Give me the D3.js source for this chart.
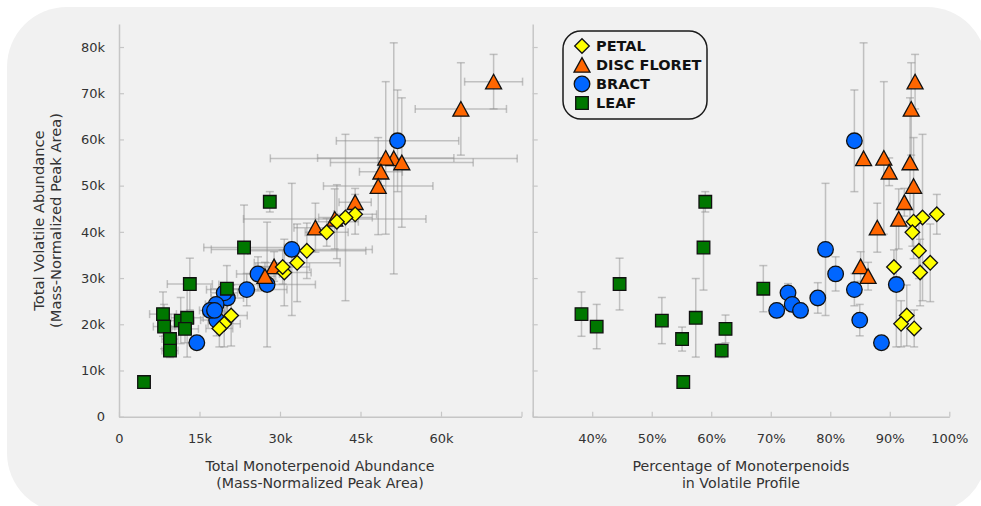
<!DOCTYPE html>
<html>
<head>
<meta charset="utf-8">
<script src="https://cdn.jsdelivr.net/npm/d3@7"></script>
<style>
  html, body { margin: 0; padding: 0; background: #ffffff; }
  svg { display: block; }
  text { font-family: "DejaVu Sans", Verdana, sans-serif; }
</style>
</head>
<body>
<svg id="chart" width="981" height="506"></svg>
<script>
// ---------------- DATA ----------------
const categories = ["PETAL", "DISC FLORET", "BRACT", "LEAF"];

// PETAL
const petalTotal    = [43800, 43100, 42200, 39900, 35900, 33300, 31200, 32400, 21900, 20100, 19100];
const petalMono     = [44000, 42200, 40600, 38700, 35000, 33200, 30800, 30500, 20900, 19600, 18700];
const petalPct      = [97.9, 95.5, 94.0, 93.8, 94.9, 96.8, 95.1, 90.7, 92.85, 91.9, 94.1];
const petalTotalErr = [4300, 18000, 8000, 3000, 6000, 8400, 7200, 3700, 6600, 5000, 4000];
const petalMonoErr  = [4000, 5000, 4000, 4000, 11000, 8000, 5000, 5000, 3000, 3000, 2500];

// DISC FLORET
const discTotal    = [72500, 66600, 55900, 56000, 55000, 53000, 49900, 46400, 42800, 40900, 32500, 30400];
const discMono     = [69800, 63700, 51200, 49700, 52700, 48800, 48300, 44000, 40200, 36600, 28900, 27200];
const discPct      = [94.25, 93.6, 85.6, 89.0, 93.4, 89.9, 94.0, 92.45, 91.5, 87.9, 85.1, 86.35];
const discTotalErr = [5900, 10000, 25000, 16500, 14000, 3000, 10500, 3000, 6500, 5300, 3200, 3000];
const discMonoErr  = [5400, 8500, 23000, 12700, 13300, 4000, 10200, 3000, 17000, 4000, 3000, 2000];

// BRACT
const bractTotal    = [59700, 36200, 30900, 27500, 28600, 20900, 16000, 25700, 26800, 24300, 23000, 23000];
const bractMono     = [51900, 32200, 25900, 23800, 27600, 18200, 14500, 20200, 19600, 18100, 17000, 17800];
const bractPct      = [84.05, 79.2, 80.9, 84.05, 91.1, 84.95, 88.6, 77.9, 72.9, 73.6, 71.0, 75.0];
const bractTotalErr = [11000, 14300, 3700, 3500, 13500, 3400, 0, 3300, 2000, 1500, 1500, 1500];
const bractMonoErr  = [11400, 15000, 4000, 7500, 9000, 3000, 0, 3000, 2500, 2000, 2000, 2000];

// LEAF
const leafTotal    = [7500, 22200, 19500, 28700, 20800, 16800, 21400, 46500, 36600, 19000, 14300, 27700];
const leafMono     = [4660, 8200, 8400, 13200, 11500, 9500, 12700, 28100, 23300, 12300, 9500, 20100];
const leafPct      = [55.3, 38.2, 40.75, 44.6, 51.7, 55.1, 57.4, 59.0, 58.7, 62.4, 61.75, 68.75];
const leafTotalErr = [0, 4800, 4800, 5600, 5000, 2600, 8500, 2200, 9200, 3000, 1500, 5000];
const leafMonoErr  = [0, 2500, 2000, 4200, 2500, 1500, 3000, 1000, 7500, 2500, 1500, 3000];

// Axis ticks and labels
const leftXTicks       = [0, 15000, 30000, 45000, 60000, 75000];
const leftXTickLabels  = ["0", "15k", "30k", "45k", "60k", ""];
const yTicks           = [0, 10000, 20000, 30000, 40000, 50000, 60000, 70000, 80000];
const yTickLabels      = ["0", "10k", "20k", "30k", "40k", "50k", "60k", "70k", "80k"];
const rightXTicks      = [30, 40, 50, 60, 70, 80, 90, 100];
const rightXTickLabels = ["", "40%", "50%", "60%", "70%", "80%", "90%", "100%"];

// ---------------- BUILD SERIES ----------------
function zipSeries(name, total, mono, pct, totErr, monoErr) {
  return total.map((t, i) => ({ name, total: t, mono: mono[i], pct: pct[i], totErr: totErr[i], monoErr: monoErr[i] }));
}
const series = {
  "PETAL": zipSeries("PETAL", petalTotal, petalMono, petalPct, petalTotalErr, petalMonoErr),
  "DISC FLORET": zipSeries("DISC FLORET", discTotal, discMono, discPct, discTotalErr, discMonoErr),
  "BRACT": zipSeries("BRACT", bractTotal, bractMono, bractPct, bractTotalErr, bractMonoErr),
  "LEAF": zipSeries("LEAF", leafTotal, leafMono, leafPct, leafTotalErr, leafMonoErr)
};
const drawOrder = ["BRACT", "LEAF", "DISC FLORET", "PETAL"];

const style = {
  "PETAL":       { fill: "#ffff00", shape: "diamond" },
  "DISC FLORET": { fill: "#ff6600", shape: "triangle" },
  "BRACT":       { fill: "#0066ff", shape: "circle" },
  "LEAF":        { fill: "#007700", shape: "square" }
};

function shapePath(shape) {
  switch (shape) {
    case "diamond":  return "M0,-7.3L7.3,0L0,7.3L-7.3,0Z";
    case "triangle": return "M0,-7.4L8,7.2L-8,7.2Z";
    case "square":   return "M-6.3,-6.3H6.3V6.3H-6.3Z";
    default:         return d3.arc()({innerRadius: 0, outerRadius: 7.8, startAngle: 0, endAngle: 2 * Math.PI});
  }
}

// ---------------- SCALES ----------------
const svg = d3.select("#chart");
const xL = d3.scaleLinear().domain([0, 75000]).range([119, 521.5]);
const xR = d3.scaleLinear().domain([30, 100]).range([532.7, 949.3]);
const y  = d3.scaleLinear().domain([0, 85000]).range([416.7, 23.9]);

// background
svg.append("rect").attr("x", 7).attr("y", 7).attr("width", 980).attr("height", 506)
  .attr("rx", 60).attr("ry", 60).attr("fill", "#f1f1f1");

// ---------------- AXES ----------------
const axisColor = "#c6c6c6";
function styleAxis(g) {
  g.select(".domain").attr("stroke", axisColor).attr("stroke-width", 1.5);
  g.selectAll(".tick line").attr("stroke", axisColor).attr("stroke-width", 1.2);
  g.selectAll(".tick text").attr("fill", "#333").style("font-size", "13px")
    .style("font-family", '"DejaVu Sans", Verdana, sans-serif');
}

svg.append("g").attr("transform", `translate(0,${y(0)})`)
  .call(d3.axisBottom(xL).tickValues(leftXTicks).tickFormat((d, i) => leftXTickLabels[i])
    .tickSizeInner(-5).tickSizeOuter(0).tickPadding(17))
  .call(styleAxis);

svg.append("g").attr("transform", `translate(${xL(0)},0)`)
  .call(d3.axisLeft(y).tickValues(yTicks).tickFormat((d, i) => yTickLabels[i])
    .tickSizeInner(-5).tickSizeOuter(0).tickPadding(14))
  .call(styleAxis);

svg.append("g").attr("transform", `translate(0,${y(0)})`)
  .call(d3.axisBottom(xR).tickValues(rightXTicks).tickFormat((d, i) => rightXTickLabels[i])
    .tickSizeInner(-5).tickSizeOuter(0).tickPadding(17))
  .call(styleAxis);

svg.append("g").attr("transform", `translate(${xR(30)},0)`)
  .call(d3.axisLeft(y).tickValues(yTicks).tickFormat("")
    .tickSizeInner(-5).tickSizeOuter(0))
  .call(styleAxis);

// axis titles
const titleColor = "#333";
function addText(x, yy, txt, size, rotate) {
  const t = svg.append("text").attr("x", x).attr("y", yy).attr("text-anchor", "middle")
    .attr("dominant-baseline", "central").attr("fill", titleColor).style("font-size", size + "px").text(txt);
  if (rotate) t.attr("transform", `rotate(-90,${x},${yy})`);
}
addText(320, 466, "Total Monoterpenoid Abundance", 14.2);
addText(320, 483, "(Mass-Normalized Peak Area)", 14.2);
addText(741, 466, "Percentage of Monoterpenoids", 14.2);
addText(741, 483, "in Volatile Profile", 14.2);
addText(38.5, 220.5, "Total Volatile Abundance", 14.7, true);
addText(55.5, 220.5, "(Mass-Normalized Peak Area)", 14.7, true);

// ---------------- ERROR BARS ----------------
const eb = svg.append("g").attr("stroke", "#8f8f8f").attr("stroke-opacity", 0.5)
  .attr("stroke-width", 1.5).attr("fill", "none");
const cap = 4;
function vBar(px, v, err) {
  if (!err) return;
  const y1 = y(v - err), y2 = y(v + err);
  eb.append("line").attr("x1", px).attr("x2", px).attr("y1", y1).attr("y2", y2);
  eb.append("line").attr("x1", px - cap).attr("x2", px + cap).attr("y1", y1).attr("y2", y1);
  eb.append("line").attr("x1", px - cap).attr("x2", px + cap).attr("y1", y2).attr("y2", y2);
}
function hBar(scale, py, v, err) {
  if (!err) return;
  const x1 = scale(v - err), x2 = scale(v + err);
  eb.append("line").attr("x1", x1).attr("x2", x2).attr("y1", py).attr("y2", py);
  eb.append("line").attr("x1", x1).attr("x2", x1).attr("y1", py - cap).attr("y2", py + cap);
  eb.append("line").attr("x1", x2).attr("x2", x2).attr("y1", py - cap).attr("y2", py + cap);
}
drawOrder.forEach(name => {
  series[name].forEach(d => {
    vBar(xL(d.mono), d.total, d.totErr);
    hBar(xL, y(d.total), d.mono, d.monoErr);
    vBar(xR(d.pct), d.total, d.totErr);
  });
});

// ---------------- MARKERS ----------------
const mk = svg.append("g");
drawOrder.forEach(name => {
  const st = style[name];
  const p = shapePath(st.shape);
  mk.selectAll(null).data(series[name]).join("path")
    .attr("d", p).attr("transform", d => `translate(${xL(d.mono)},${y(d.total)})`)
    .attr("fill", st.fill).attr("stroke", "#111").attr("stroke-width", 1.3);
  mk.selectAll(null).data(series[name]).join("path")
    .attr("d", p).attr("transform", d => `translate(${xR(d.pct)},${y(d.total)})`)
    .attr("fill", st.fill).attr("stroke", "#111").attr("stroke-width", 1.3);
});

// ---------------- LEGEND ----------------
const lg = svg.append("g");
lg.append("rect").attr("x", 563).attr("y", 31).attr("width", 144).attr("height", 88)
  .attr("rx", 18).attr("ry", 18).attr("fill", "none").attr("stroke", "#1a1a1a").attr("stroke-width", 1.5);
categories.forEach((c, i) => {
  const cy = 46 + i * 19;
  lg.append("path").attr("d", shapePath(style[c].shape)).attr("transform", `translate(582,${cy})`)
    .attr("fill", style[c].fill).attr("stroke", "#111").attr("stroke-width", 1.3);
  lg.append("text").attr("x", 596).attr("y", cy).attr("dominant-baseline", "central")
    .attr("fill", "#111").style("font-size", "14.5px").style("font-weight", "bold").text(c);
});
</script>
</body>
</html>
